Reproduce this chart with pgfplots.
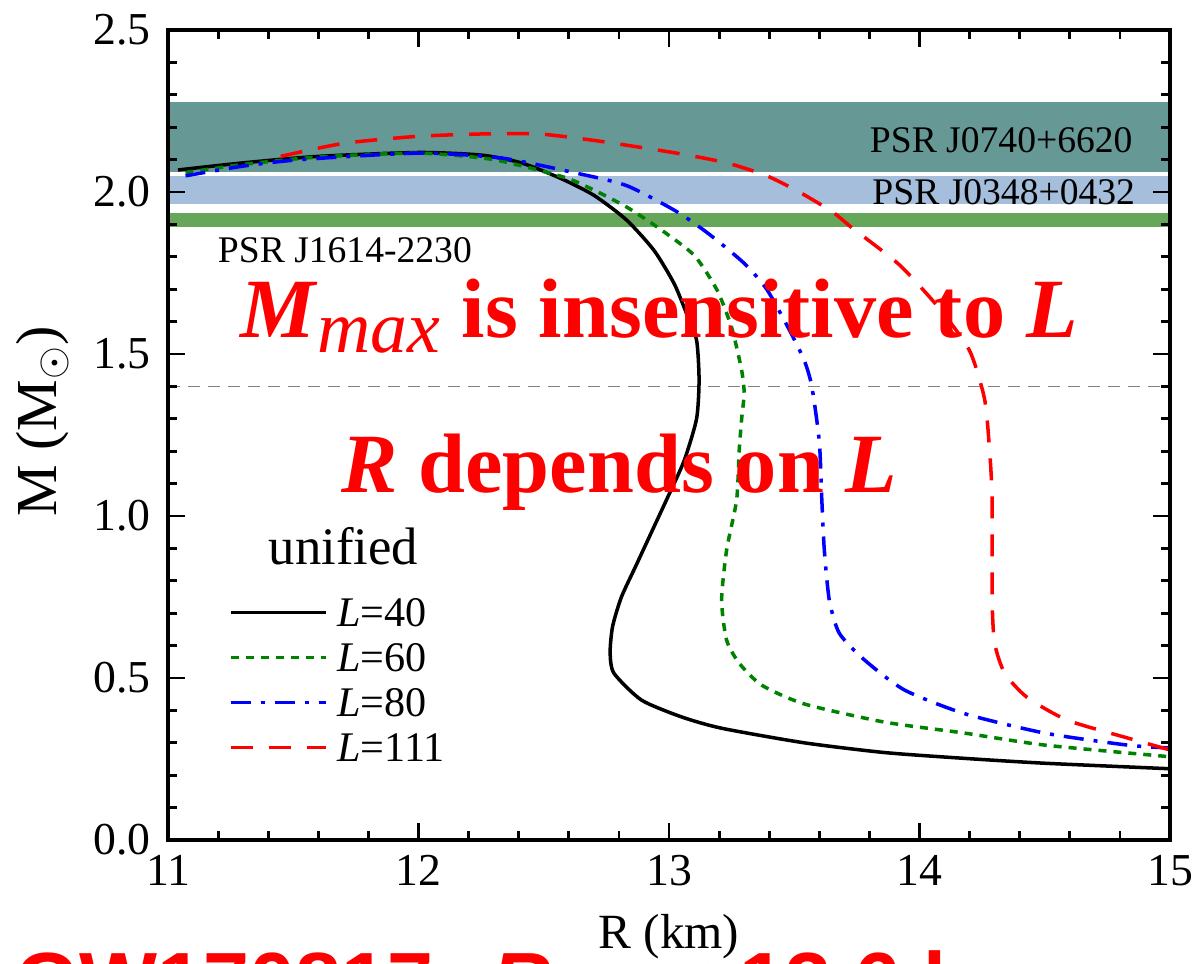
\documentclass[border=0pt]{standalone}
\usepackage{fontspec}
\setmainfont{Liberation Serif}
\newfontfamily\sansfont{Liberation Sans}
\usepackage{pgfplots}
\pgfplotsset{compat=1.18}
\definecolor{bandteal}{RGB}{102,152,150}
\definecolor{bandblue}{RGB}{165,190,220}
\definecolor{bandgreen}{RGB}{102,166,90}
\definecolor{curvegreen}{RGB}{0,130,0}

\begin{document}
\begin{tikzpicture}
% headline below the plot, cut by the page edge as in the source figure
\node[anchor=base west, text=red, font=\sansfont\bfseries\fontsize{23.5}{23.5}\selectfont, inner sep=0pt]
  at (-15.3mm,-17.0mm) {GW170817: \textit{R}$_{\mathbf{1.4}}$ $<$ 13.6 km};
\begin{axis}[
  at={(0,0)}, anchor=south west,
  scale only axis, width=100.2mm, height=81mm,
  xmin=11, xmax=15, ymin=0, ymax=2.5,
  xtick={11,12,13,14,15}, ytick={0,0.5,1,1.5,2,2.5},
  minor x tick num=4, minor y tick num=4,
  tick align=inside, major tick length=1.7mm, minor tick length=0.9mm,
  tick style={line width=0.8pt, black},
  axis line style={line width=0.9pt},
  axis on top,
  ticklabel style={font=\fontsize{13}{13}\selectfont},
  /pgf/number format/assume math mode=true,
  yticklabel style={xshift=-0.5mm, /pgf/number format/.cd, fixed, fixed zerofill, precision=1},
  xticklabel style={yshift=-0.3mm},
  xlabel={R (km)}, ylabel={M (M$_\odot$)},
  xlabel style={font=\fontsize{14}{14}\selectfont, fill=white, inner sep=1pt, yshift=-1.2mm},
  ylabel style={font=\fontsize{16.5}{16.5}\selectfont, at={(ticklabel cs:0.517)}, anchor=near ticklabel},
  legend style={at={(rel axis cs:0.06,0.306)}, anchor=north west, draw=none, fill=none,
    inner sep=0pt, row sep=0.6mm, font=\fontsize{12}{12}\selectfont,
    nodes={inner sep=0.5mm, text height=2.9mm, text depth=0mm}, cells={anchor=west}},
  legend image code/.code={\draw[#1] (0mm,0mm) -- (9.5mm,0mm);},
]
% observed mass bands
\addplot[draw=none, fill=bandteal, forget plot] coordinates {(11,2.062) (15,2.062) (15,2.278) (11,2.278)} -- cycle;
\addplot[draw=none, fill=bandblue, forget plot] coordinates {(11,1.962) (15,1.962) (15,2.049) (11,2.049)} -- cycle;
\addplot[draw=none, fill=bandgreen, forget plot] coordinates {(11,1.892) (15,1.892) (15,1.935) (11,1.935)} -- cycle;
\addplot[gray, line width=0.5pt, dash pattern=on 1.2mm off 0.8mm, forget plot] coordinates {(11,1.4) (15,1.4)};

\addplot[black, line width=1pt, smooth, tension=0.4] coordinates {
(11.04,2.068) (11.3,2.09) (11.6,2.11) (12.0,2.122) (12.25,2.114) (12.41,2.09)
(12.565,2.043) (12.70,1.99) (12.83,1.914) (12.94,1.82) (13.02,1.718) (13.07,1.625)
(13.11,1.543) (13.12,1.42) (13.11,1.30) (13.06,1.17) (12.99,1.05) (12.93,0.95)
(12.87,0.85) (12.81,0.75) (12.775,0.66) (12.765,0.58) (12.78,0.515) (12.89,0.432)
(13.05,0.38) (13.21,0.345) (13.54,0.30) (13.86,0.27) (14.18,0.252) (14.5,0.237) (15.0,0.22)
};
\addlegendentry{\hspace{0.5mm}\textit{L}=40}
\addplot[curvegreen, line width=1pt, dash pattern=on 0.8mm off 0.7mm, smooth, tension=0.4] coordinates {
(11.07,2.06) (11.3,2.085) (11.6,2.108) (12.0,2.12) (12.3,2.1) (12.58,2.046)
(12.70,2.006) (12.83,1.954) (12.96,1.888) (13.10,1.805) (13.19,1.70) (13.24,1.605)
(13.26,1.553) (13.29,1.45) (13.30,1.38) (13.29,1.30) (13.28,1.20) (13.27,1.05)
(13.23,0.895) (13.21,0.74) (13.23,0.617) (13.28,0.546) (13.37,0.478) (13.54,0.42)
(13.86,0.364) (14.18,0.33) (14.5,0.293) (15.0,0.257)
};
\addlegendentry{\hspace{0.5mm}\textit{L}=60}
\addplot[blue, line width=1pt, dash pattern=on 2mm off 1mm on 0.4mm off 1mm, smooth, tension=0.4] coordinates {
(11.07,2.05) (11.3,2.08) (11.53,2.10) (12.0,2.12) (12.33,2.105) (12.62,2.06)
(12.83,2.02) (13.03,1.94) (13.16,1.87) (13.30,1.78) (13.39,1.70) (13.48,1.575)
(13.54,1.48) (13.57,1.40) (13.60,1.23) (13.61,1.05) (13.62,0.895) (13.64,0.74)
(13.68,0.638) (13.78,0.556) (13.94,0.463) (14.18,0.39) (14.5,0.33) (14.83,0.293)
(15.0,0.284)
};
\addlegendentry{\hspace{0.5mm}\textit{L}=80}
\addplot[red, line width=1pt, dash pattern=on 2.2mm off 1.6mm, smooth, tension=0.4] coordinates {
(11.45,2.11) (11.7,2.15) (12.0,2.172) (12.3,2.18) (12.5,2.178) (12.74,2.155)
(13.03,2.12) (13.23,2.09) (13.39,2.05) (13.52,2.0) (13.65,1.94) (13.73,1.89)
(13.92,1.775) (14.08,1.64) (14.2,1.51) (14.26,1.36) (14.28,1.20) (14.29,1.05)
(14.29,0.74) (14.30,0.607) (14.34,0.515) (14.43,0.44) (14.59,0.37) (14.83,0.315)
(15.0,0.278)
};
\addlegendentry{\hspace{0.5mm}\textit{L}=111}

\node[anchor=east, font=\fontsize{10.7}{10.7}\selectfont] at (axis cs:14.90,2.16) {PSR J0740+6620};
\node[anchor=east, font=\fontsize{10.7}{10.7}\selectfont] at (axis cs:14.91,2.0) {PSR J0348+0432};
\node[anchor=west, font=\fontsize{10.7}{10.7}\selectfont] at (axis cs:11.15,1.82) {PSR J1614-2230};
\node[anchor=base, font=\fontsize{15}{15}\selectfont] at (axis cs:11.70,0.85) {unified};

\node[anchor=base, text=red, font=\fontsize{24}{24}\selectfont\bfseries] at (axis cs:12.96,1.55)
  {\textit{M}\raisebox{-0.17em}{\fontsize{21}{21}\selectfont\mdseries\textit{max}} is insensitive to \textit{L}};
\node[anchor=base, text=red, font=\fontsize{24}{24}\selectfont\bfseries] at (axis cs:12.80,1.074)
  {\textit{R} depends on \textit{L}};
\end{axis}
\pgfresetboundingbox
\useasboundingbox (-16.8mm,-12.3mm) rectangle (102.8mm,84mm);
\end{tikzpicture}
\end{document}
